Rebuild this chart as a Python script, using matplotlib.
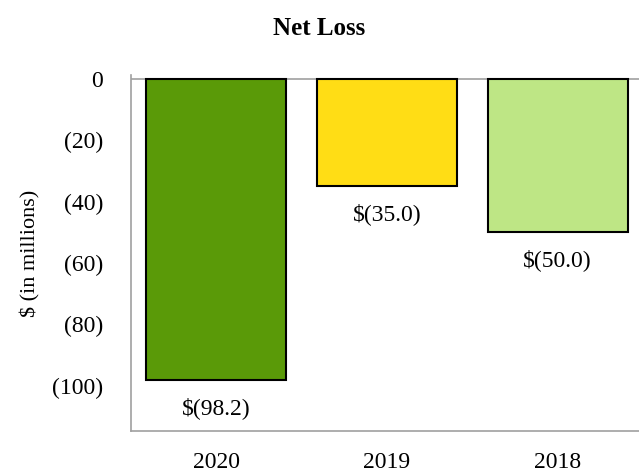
import matplotlib.pyplot as plt
import numpy as np

years = ['2020', '2019', '2018']
net_loss = [-98.2, -35.0, -50.0]
labels = ['$(98.2)', '$(35.0)', '$(50.0)']
colors = ['#5A9A08', '#FFDD15', '#BEE685']
yticks = [0, -20, -40, -60, -80, -100]
ytick_labels = ['0', '(20)', '(40)', '(60)', '(80)', '(100)']

if __name__ == '__main__':
    plt.rcParams['font.family'] = 'Liberation Serif'
    plt.rc('font', size=17)

    fig = plt.figure(figsize=(6.39, 4.72), dpi=100)
    ax = fig.add_axes([0.2045, 0.0869, 0.802, 0.754])

    x = np.arange(len(years))
    ax.bar(x, net_loss, width=0.82, color=colors, edgecolor='black', linewidth=1.5, zorder=3)
    ax.axhline(0, color='#a0a0a0', linewidth=1.2, zorder=2)

    for xi, v, lab in zip(x, net_loss, labels):
        ax.text(xi, v - 9.0, lab, ha='center', va='center', fontsize=17)

    ax.set_xlim(-0.5, 2.5)
    ax.set_ylim(-114.8, 1.3)
    ax.set_xticks(x)
    ax.set_xticklabels(years)
    ax.set_yticks(yticks)
    ax.set_yticklabels(ytick_labels)
    ax.tick_params(length=0, pad=20, axis='y')
    ax.tick_params(length=0, pad=15, axis='x')

    for side in ['top', 'right']:
        ax.spines[side].set_visible(False)
    for side in ['left', 'bottom']:
        ax.spines[side].set_color('#a0a0a0')
        ax.spines[side].set_linewidth(1.2)

    ax.set_ylabel('$ (in millions)', fontsize=16, labelpad=8)
    fig.text(0.5, 0.94, 'Net Loss', ha='center', va='center', fontsize=18, fontweight='bold')

    plt.savefig('out.png', dpi=100)
